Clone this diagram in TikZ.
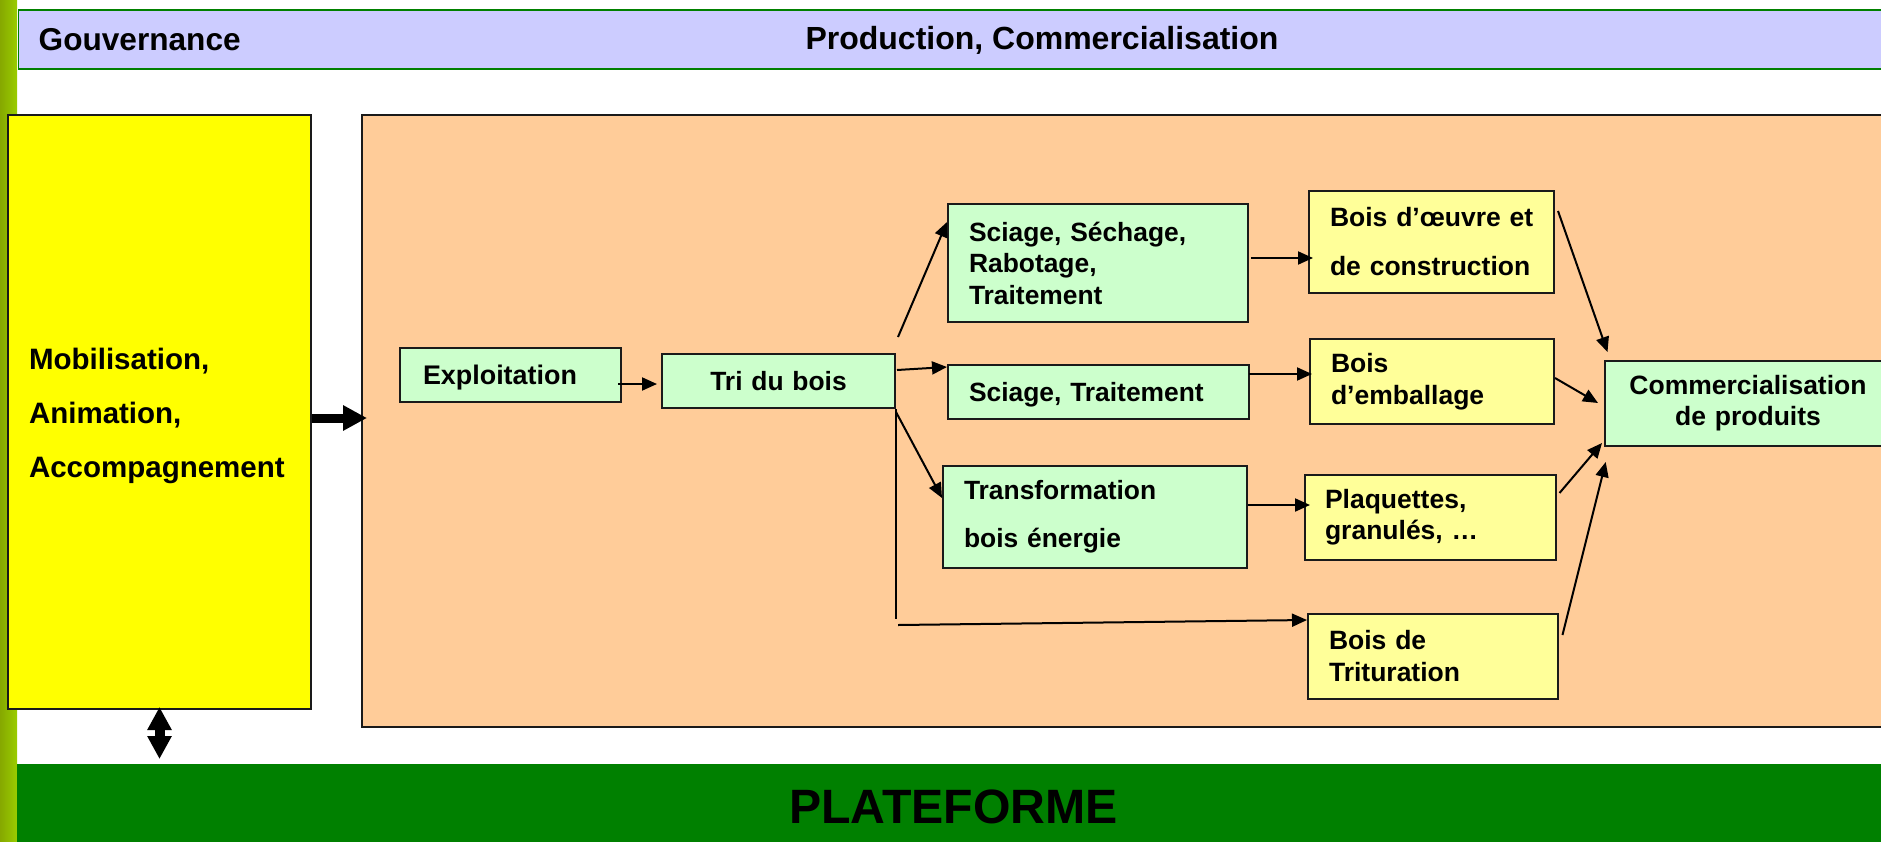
\documentclass[tikz,border=0pt]{standalone}
\usepackage{fontspec}
\setmainfont{Liberation Sans}
\usetikzlibrary{arrows.meta,calc}
\definecolor{hdrblue}{HTML}{CCCCFF}
\definecolor{hdrgreen}{HTML}{008000}
\definecolor{prodorange}{HTML}{FFCC99}
\definecolor{boxgreen}{HTML}{CCFFCC}
\definecolor{boxyellow}{HTML}{FFFF99}
\definecolor{mobyellow}{HTML}{FFFF00}
\definecolor{platgreen}{HTML}{008000}
\definecolor{stripdark}{HTML}{86A800}
\definecolor{striplight}{HTML}{99CC00}
\definecolor{edge}{HTML}{1A1A1A}
\newcommand\fsz[2]{\fontsize{#1}{#2}\selectfont\bfseries}
\begin{document}
\begin{tikzpicture}[x=1pt,y=-1pt,
  panel/.style={draw=edge, line width=2pt, anchor=north west, inner ysep=0pt, align=left},
  gbox/.style={panel, fill=boxgreen, font=\fsz{26.4}{31.5}},
  ybox/.style={panel, fill=boxyellow, font=\fsz{26.5}{32}},
  oneline/.style={text depth=0pt},
  arr/.style={line width=2pt, -{Triangle[length=15pt,width=13pt]}},
  bigarr/.style={line width=9pt, -{Triangle[length=24pt,width=24pt]}},
  dblarr/.style={line width=10pt, {Triangle[length=23pt,width=23pt]}-{Triangle[length=23pt,width=23pt]}},
  plain/.style={line width=2pt}
]
\useasboundingbox (0,0) rectangle (1881,841);
\clip (0,0) rectangle (1881,841);

% left strip
\fill[left color=stripdark, right color=striplight] (0,0) rectangle (17,841);

% header
\node[draw=hdrgreen, fill=hdrblue, line width=1.5pt, anchor=north west,
      minimum width=1880pt, minimum height=59pt, inner sep=0pt] (hdr) at (17.5,9) {};
\node[anchor=base west, inner sep=0pt, font=\fsz{31.6}{31.6}] (gouv) at (38.5,50) {Gouvernance};
\node[anchor=base, inner sep=0pt, font=\fsz{32}{32}] (pc) at (1042,49.5) {Production, Commercialisation};

% main panels
\node[panel, fill=mobyellow, text width=261pt, inner xsep=21pt, minimum height=594pt, text height=30pt,
      font=\fsz{29.5}{54}] (mob) at (7,114) {Mobilisation,\\Animation,\\Accompagnement};
\node[panel, fill=prodorange, minimum width=1540pt, minimum height=612pt, inner sep=0pt] (prod) at (361,114) {};

% platform band
\node[fill=platgreen, anchor=north west, minimum width=1880pt, minimum height=90pt, inner sep=0pt] (plat) at (17,764) {};
\node[anchor=base, inner sep=0pt, font=\fsz{48.2}{48.2}] (platlabel) at (953.5,823) {PLATEFORME};

% process boxes
\node[gbox, oneline, text width=175pt, inner xsep=23pt, minimum height=54pt, font=\fsz{26.9}{31.5}] (expl) at (399,347) {Exploitation};
\node[gbox, oneline, text width=213pt, inner xsep=10pt, minimum height=54pt, align=center] (tri) at (661,353) {Tri du bois};
\node[gbox, text width=258pt, inner xsep=21pt, minimum height=118pt] (s1) at (947,203) {Sciage, Séchage,\\Rabotage,\\Traitement};
\node[gbox, oneline, text width=259pt, inner xsep=21pt, minimum height=54pt] (s2) at (947,364) {Sciage, Traitement};
\node[gbox, text width=262pt, inner xsep=21pt, minimum height=102pt, font=\fsz{26.4}{48}] (tr) at (942,465) {Transformation\\bois énergie};

\node[ybox, text width=203pt, inner xsep=21pt, minimum height=102pt, font=\fsz{26.5}{49}] (bo) at (1308,190) {\mbox{Bois d’œuvre et}\\\mbox{de construction}};
\node[ybox, text width=202pt, inner xsep=21pt, minimum height=85pt] (emb) at (1309,338) {Bois\\d’emballage};
\node[ybox, text width=211pt, inner xsep=20pt, minimum height=85pt, font=\fsz{26.5}{31}] (plq) at (1304,474) {Plaquettes,\\granulés, …};
\node[ybox, text width=208pt, inner xsep=21pt, minimum height=85pt] (trit) at (1307,613) {Bois de\\Trituration};

\node[gbox, text width=270pt, inner xsep=8pt, minimum height=85pt, align=center, font=\fsz{26.5}{31}] (comm) at (1604,360) {Commercialisation\\de produits};

% connectors
\draw[bigarr] ($(mob.east)+(0,6)$) -- ($(prod.west)+(6,-3)$);
\draw[dblarr] ($(mob.south)+(0,-3)$) -- ($(mob.south |- plat.north)+(0,-5)$);

\draw[arr] ($(expl.east)+(-4,9)$) -- ($(tri.west)+(-4,3)$);
\draw[arr] ($(tri.north east)+(2,-16)$) -- ($(s1.north west)+(0,19)$);
\draw[arr] ($(tri.east)+(1,-11)$) -- ($(s2.north west)+(0,3)$);
\draw[arr] ($(tri.south east)+(0,3)$) -- ($(tr.west)+(0,-19)$);
\draw[plain] (tri.south east) -- ++(0,210);
\draw[arr] ($(tri.south east)+(2,216)$) -- ($(trit.north west)+(0,7)$);

\draw[arr] ($(s1.east)+(2,-5)$) -- ($(bo.west)+(5,16)$);
\draw[arr] ($(s2.east)+(-1,-18)$) -- ($(emb.west)+(3,-7.5)$);
\draw[arr] ($(tr.east)+(0,-12)$) -- ($(plq.west)+(6,-12.5)$);

\draw[arr] ($(bo.north east)+(3,21)$) -- ($(comm.north west)+(3.5,-8)$);
\draw[arr] ($(emb.east)+(0,-3.5)$) -- ($(comm.west)+(-6,-0.5)$);
\draw[arr] ($(plq.north east)+(2.5,19)$) -- ($(comm.south west)+(-2,-4)$);
\draw[arr] ($(trit.north east)+(3.5,22)$) -- ($(comm.south west)+(1.7,15)$);
\end{tikzpicture}
\end{document}
